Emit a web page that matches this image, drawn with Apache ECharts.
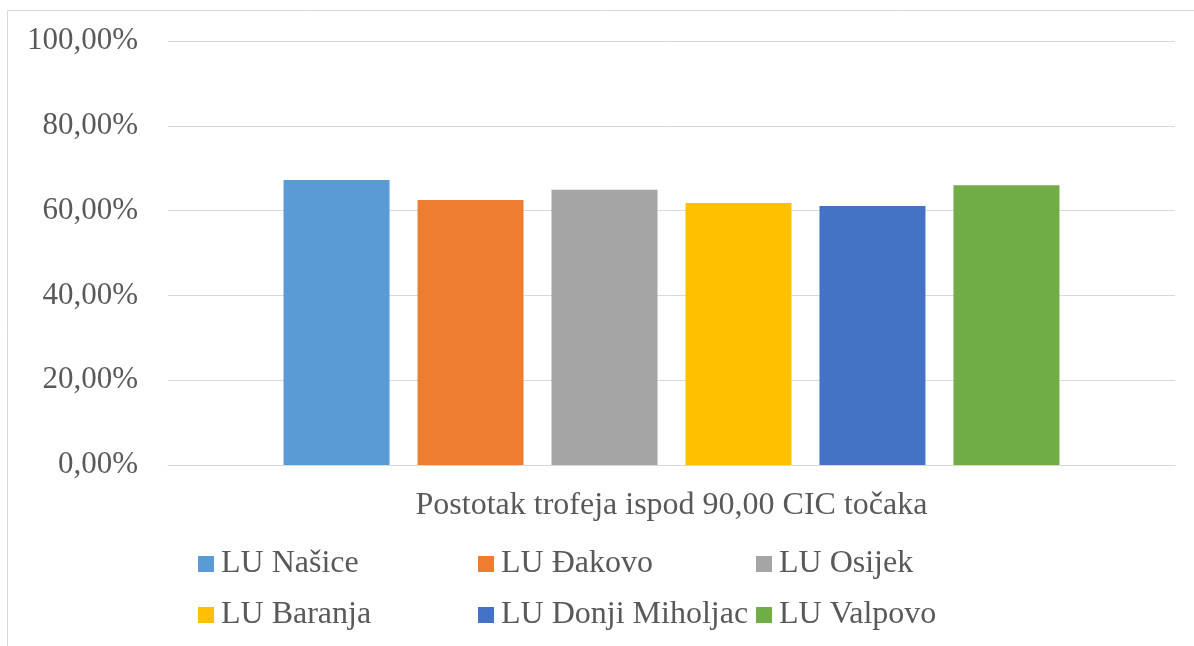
<!DOCTYPE html>
<html>
<head>
<meta charset="utf-8">
<script src="https://cdn.jsdelivr.net/npm/echarts@6/dist/echarts.min.js"></script>
<style>
html,body{margin:0;padding:0;background:#fff;}
#chart{width:1194px;height:646px;}
</style>
</head>
<body>
<div id="chart"></div>
<script>
const categories = ['Postotak trofeja ispod 90,00 CIC točaka'];
const seriesNames = ['LU Našice', 'LU Đakovo', 'LU Osijek', 'LU Baranja', 'LU Donji Miholjac', 'LU Valpovo'];
const seriesValues = [67.2, 62.5, 64.9, 61.8, 61.1, 66.0];
const colors = ['#5B9BD5', '#ED7D31', '#A5A5A5', '#FFC000', '#4472C4', '#70AD47'];
const yTicks = [0, 20, 40, 60, 80, 100];

const FONT = '"Liberation Serif", "Times New Roman", serif';
const chart = echarts.init(document.getElementById('chart'), null, {renderer: 'canvas'});

const series = seriesNames.map((name, i) => ({
  name: name,
  type: 'bar',
  data: [seriesValues[i]],
  barWidth: 106,
  barGap: '26.4%',
  itemStyle: {color: colors[i]}
}));

const legendCols = [198, 478, 756];
const legendRows = [548, 599];
const legends = seriesNames.map((name, i) => ({
  data: [name],
  left: legendCols[i % 3],
  top: legendRows[Math.floor(i / 3)],
  itemWidth: 16,
  itemHeight: 16,
  icon: 'rect',
  padding: 0,
  selectedMode: false,
  textStyle: {color: '#595959', fontFamily: FONT, fontSize: 32, lineHeight: 30, padding: [0, 0, 0, 2]}
}));

chart.setOption({
  animation: false,
  backgroundColor: '#fff',
  color: colors,
  graphic: [
    {type: 'line', shape: {x1: 7.5, y1: 10.5, x2: 1200, y2: 10.5}, style: {stroke: '#D9D9D9', lineWidth: 1}},
    {type: 'line', shape: {x1: 7.5, y1: 10.5, x2: 7.5, y2: 660}, style: {stroke: '#D9D9D9', lineWidth: 1}}
  ],
  grid: {left: 168, right: 19, top: 41, bottom: 181, containLabel: false},
  xAxis: {
    type: 'category',
    data: categories,
    axisLine: {show: true, lineStyle: {color: '#D9D9D9', width: 1}},
    axisTick: {show: false},
    axisLabel: {color: '#595959', fontFamily: FONT, fontSize: 32, margin: 25}
  },
  yAxis: {
    type: 'value',
    min: yTicks[0],
    max: yTicks[yTicks.length - 1],
    interval: 20,
    axisLine: {show: false},
    axisTick: {show: false},
    splitLine: {lineStyle: {color: '#D9D9D9', width: 1}},
    axisLabel: {
      color: '#595959', fontFamily: FONT, fontSize: 31, margin: 30,
      formatter: v => v.toFixed(2).replace('.', ',') + '%'
    }
  },
  legend: legends,
  series: series
});
</script>
</body>
</html>
